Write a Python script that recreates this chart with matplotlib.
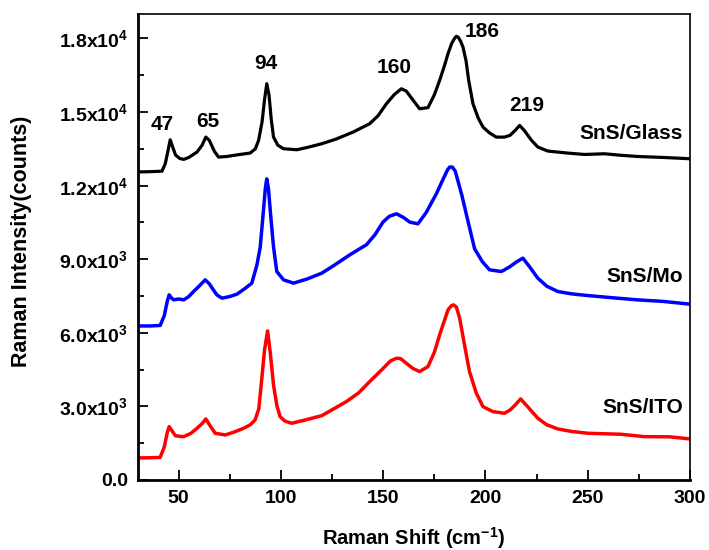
import matplotlib
matplotlib.use("Agg")
import matplotlib.pyplot as plt
from matplotlib.ticker import MultipleLocator, FuncFormatter

plt.rcParams["font.family"] = ["Liberation Sans", "DejaVu Sans"]
plt.rcParams["font.weight"] = "bold"
plt.rcParams["mathtext.fontset"] = "custom"
plt.rcParams["mathtext.rm"] = "Liberation Sans:bold"
plt.rcParams["mathtext.it"] = "Liberation Sans:bold"
plt.rcParams["mathtext.bf"] = "Liberation Sans:bold"

# SnS/Glass (black)
glass_x = [30, 36, 41.9, 43.5, 45.0, 45.9, 47.0, 48.5, 50.5, 52.5, 55, 59, 61.5, 63.3, 65.0, 67.5, 69.5,
           73.6, 79, 85, 87.5, 89.1, 90.8, 92.0, 93.1, 94.2, 95.3, 96.4, 98.5, 101.3, 107.8, 113, 120,
           127, 135.3, 143.4, 147.5, 151.6, 155.5, 158.9, 161.3, 164.5, 167.8, 171.9, 175, 177.6,
           180, 181.7, 183.5, 185, 185.8, 186.7, 187.8, 189, 190.5, 191.8, 193.9, 196.5, 198.8, 202,
           205.3, 209.3, 212, 214.5, 216.7, 219, 222.5, 225.6, 230.5, 240, 248.4, 258.2, 266, 274.4,
           287, 300]
glass_y = [12560, 12570, 12590, 12900, 13500, 13870, 13600, 13250, 13110, 13070, 13150, 13370, 13650,
           13980, 13850, 13400, 13165, 13190, 13260, 13330, 13500, 13845, 14600, 15500, 16157, 15700,
           14700, 13980, 13650, 13505, 13464, 13560, 13710, 13900, 14185, 14525, 14850, 15340, 15720,
           15950, 15855, 15500, 15135, 15180, 15700, 16290, 16900, 17380, 17800, 18020, 18090, 18050,
           17900, 17655, 17100, 16300, 15340, 14750, 14390, 14150, 13980, 13980, 14050, 14250, 14455,
           14250, 13850, 13575, 13410, 13330, 13272, 13300, 13240, 13190, 13150, 13097]

# SnS/Mo (blue)
mo_x = [30, 36, 41, 43, 44.5, 45.4, 46.5, 47.6, 50, 52.5, 55, 57.3, 60, 63, 65, 67, 68.7, 71.2, 75,
        78.5, 82, 85.8, 88.3, 89.9, 91.5, 92.4, 93.1, 93.9, 95, 96.4, 98, 101.3, 106.2, 113, 120,
        126, 133.7, 138.5, 141.8, 146, 149.9, 153, 156.5, 160, 163, 167, 171, 176, 179.5, 181.5,
        182.5, 183.8, 185.2, 186.5, 188.5, 190.6, 194.7, 198.5, 202, 207.7, 209.3, 212, 215, 218.3,
        221.5, 225.6, 230, 235.4, 242, 250, 262, 274.4, 287, 300]
mo_y = [6280, 6280, 6300, 6700, 7300, 7548, 7420, 7344, 7380, 7344, 7480, 7683, 7900, 8160, 8000,
        7750, 7548, 7413, 7480, 7575, 7780, 8025, 8772, 9494, 11000, 11900, 12280, 11900, 10800,
        9506, 8500, 8160, 8025, 8200, 8433, 8750, 9180, 9425, 9588, 10000, 10514, 10750, 10853,
        10700, 10514, 10445, 10900, 11669, 12300, 12650, 12758, 12760, 12600, 12212, 11600, 10853,
        9425, 8900, 8568, 8500, 8568, 8700, 8880, 9045, 8700, 8229, 7900, 7683, 7590, 7520, 7430,
        7344, 7280, 7169]

# SnS/ITO (red)
ito_x = [30, 36, 41, 43, 44.5, 45.4, 46.8, 48.4, 50.5, 52.5, 56, 59, 61.5, 63.3, 65.5, 67.9, 72.8,
         77, 81.8, 85, 87.4, 89.2, 90.7, 92.0, 93.5, 94.8, 96.4, 98, 99.6, 102, 105.3, 112, 120,
         132, 138, 143.4, 150, 153.5, 156.5, 158.5, 161.3, 164.5, 167.8, 171.9, 175, 177.6, 181.7,
         183.3, 184.4, 185.8, 187.4, 190, 192.2, 195.5, 198.8, 203.6, 209.3, 212, 214.5, 217.2,
         220.5, 225.6, 230, 235.4, 242, 250, 266.3, 277.7, 290, 300]
ito_y = [900, 905, 920, 1350, 1950, 2175, 2000, 1808, 1780, 1767, 1900, 2109, 2300, 2489, 2200,
         1905, 1836, 1950, 2109, 2250, 2448, 2900, 4149, 5300, 6079, 5200, 3876, 3050, 2583, 2400,
         2313, 2450, 2623, 3195, 3550, 4011, 4550, 4850, 4965, 4950, 4761, 4550, 4419, 4623, 5200,
         5916, 6936, 7100, 7140, 7050, 6597, 5400, 4419, 3550, 2991, 2787, 2720, 2850, 3050, 3305,
         3000, 2516, 2250, 2081, 1980, 1905, 1864, 1767, 1760, 1673]

peak_names = ["47", "65", "94", "160", "186", "219"]
peak_x = [41.9, 64.3, 92.6, 155.6, 198.6, 220.1]
peak_y = [14484, 14606, 16973, 16810, 18278, 15259]

sample_names = ["SnS/Glass", "SnS/Mo", "SnS/ITO"]
sample_y = [14117, 8282, 2938]


def sci_label(v, pos):
    if v == 0:
        return "0.0"
    exp = len(str(int(v))) - 1
    mant = v / 10 ** exp
    return "%.1fx10$^{%d}$" % (mant, exp)


fig = plt.figure(figsize=(7.09, 5.5), dpi=100)
ax = fig.add_axes([0.1942, 0.1273, 0.7790, 0.8473])

ax.plot(glass_x, glass_y, color="black", linewidth=2.3)
ax.plot(mo_x, mo_y, color="#0000ff", linewidth=2.5)
ax.plot(ito_x, ito_y, color="#ff0000", linewidth=2.5)

for name, px, py in zip(peak_names, peak_x, peak_y):
    ax.text(px, py, name, ha="center", va="center", fontsize=15, fontweight="bold")
for name, sy in zip(sample_names, sample_y):
    ax.text(296.6, sy, name, ha="right", va="center", fontsize=15, fontweight="bold")

ax.set_xlim(30, 300)
ax.set_ylim(0, 19000)
ax.xaxis.set_major_locator(MultipleLocator(50))
ax.xaxis.set_minor_locator(MultipleLocator(25))
ax.yaxis.set_major_locator(MultipleLocator(3000))
ax.yaxis.set_minor_locator(MultipleLocator(1500))
ax.yaxis.set_major_formatter(FuncFormatter(sci_label))

ax.tick_params(which="both", direction="in", top=False, right=False, width=1.3)
ax.tick_params(which="major", length=7, labelsize=14, pad=7)
ax.tick_params(which="minor", length=4)
for lab in ax.get_xticklabels() + ax.get_yticklabels():
    lab.set_fontweight("bold")
for sp in ax.spines.values():
    sp.set_linewidth(1.2)
ax.spines["bottom"].set_linewidth(2)
ax.spines["left"].set_linewidth(2)

ax.set_xlabel("Raman Shift (cm$^{-1}$)", fontsize=14.5, fontweight="bold")
ax.xaxis.set_label_coords(0.5, -0.096)
ax.xaxis.label.set_verticalalignment("top")
ax.set_ylabel("Raman Intensity(counts)", fontsize=15.5, fontweight="bold")
ax.yaxis.set_label_coords(-0.191, 0.513)

fig.savefig("out.png", dpi=100)
